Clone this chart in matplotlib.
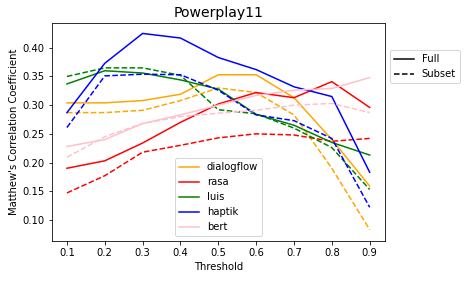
import matplotlib.pyplot as plt
from matplotlib.lines import Line2D

thresholds = [0.1, 0.2, 0.3, 0.4, 0.5, 0.6, 0.7, 0.8, 0.9]

# full data
dialogflow_full = [0.304, 0.304, 0.308, 0.319, 0.353, 0.353, 0.313, 0.240, 0.159]
rasa_full = [0.190, 0.203, 0.234, 0.270, 0.302, 0.322, 0.313, 0.341, 0.296]
luis_full = [0.337, 0.360, 0.356, 0.344, 0.328, 0.284, 0.265, 0.235, 0.213]
haptik_full = [0.287, 0.373, 0.425, 0.417, 0.383, 0.362, 0.332, 0.315, 0.183]
bert_full = [0.228, 0.240, 0.268, 0.283, 0.300, 0.317, 0.326, 0.329, 0.348]

# subset data
dialogflow_sub = [0.287, 0.287, 0.291, 0.308, 0.330, 0.322, 0.283, 0.190, 0.083]
rasa_sub = [0.147, 0.177, 0.218, 0.230, 0.243, 0.250, 0.248, 0.237, 0.242]
luis_sub = [0.350, 0.365, 0.365, 0.352, 0.292, 0.285, 0.260, 0.226, 0.153]
haptik_sub = [0.261, 0.351, 0.354, 0.353, 0.326, 0.283, 0.273, 0.242, 0.122]
bert_sub = [0.209, 0.245, 0.268, 0.280, 0.286, 0.291, 0.300, 0.303, 0.287]

names = ['dialogflow', 'rasa', 'luis', 'haptik', 'bert']
colors = ['orange', 'red', 'green', 'blue', 'pink']
full = [dialogflow_full, rasa_full, luis_full, haptik_full, bert_full]
subset = [dialogflow_sub, rasa_sub, luis_sub, haptik_sub, bert_sub]

fig = plt.figure(figsize=(471 / 72, 282 / 72), dpi=72)
ax = fig.add_axes([0.110, 0.145, 0.707, 0.773])

handles = []
for name, c, f, s in zip(names, colors, full, subset):
    line, = ax.plot(thresholds, f, color=c, label=name)
    ax.plot(thresholds, s, color=c, linestyle='--')
    handles.append(line)

ax.set_ylim(0.063, 0.443)
ax.set_xticks(thresholds)
ax.set_title('Powerplay11', fontsize=14)
ax.set_xlabel('Threshold')
ax.set_ylabel("Matthew's Correlation Coefficient")

leg1 = ax.legend(handles=handles, loc='lower center')
ax.add_artist(leg1)
style_handles = [Line2D([0], [0], color='black', linestyle='-'),
                 Line2D([0], [0], color='black', linestyle='--')]
ax.legend(style_handles, ['Full', 'Subset'], loc='center left',
          bbox_to_anchor=(1.0, 0.8))

fig.savefig('out.png', dpi=72)
